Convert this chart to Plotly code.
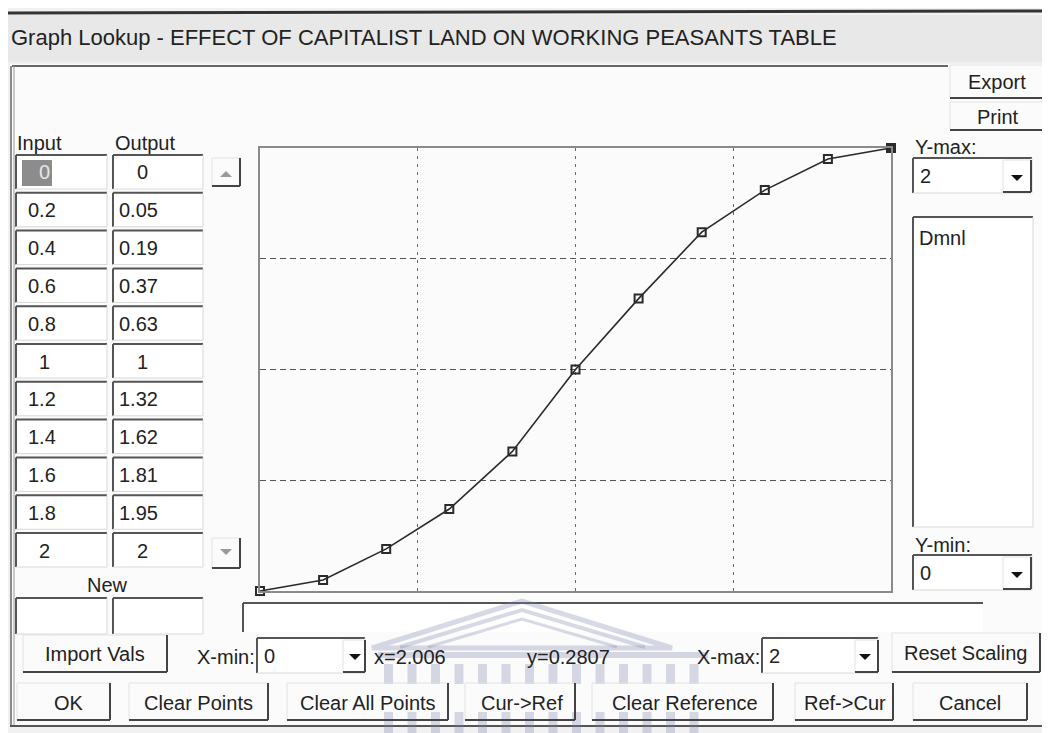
import plotly.graph_objects as go

# ---------------- data ----------------
inputs = [0, 0.2, 0.4, 0.6, 0.8, 1, 1.2, 1.4, 1.6, 1.8, 2]
outputs = [0, 0.05, 0.19, 0.37, 0.63, 1, 1.32, 1.62, 1.81, 1.95, 2]
title_text = "Graph Lookup - EFFECT OF CAPITALIST LAND ON WORKING PEASANTS TABLE"
x_min, x_max, y_min, y_max = 0, 2, 0, 2
units = "Dmnl"
cursor_x, cursor_y = "2.006", "0.2807"
bottom_buttons = ["OK", "Clear Points", "Clear All Points", "Cur->Ref",
                  "Clear Reference", "Ref->Cur", "Cancel"]

# ---------------- geometry helpers ----------------
# page body has an 8px margin: the figure is drawn from (8, 8) of the window
OFF = 8
W, H = 1050, 733
FW, FH = W - OFF, H - OFF
PL, PR, PT, PB = 260, 891, 148, 591   # plot area in window pixels
FONT = "Liberation Sans, Arial, sans-serif"
TXT = "#222222"


def px(x):
    return (x - PL) / (PR - PL)


def py(y):
    return (PB - y) / (PB - PT)


shapes = []
annos = []


def rect(x0, y0, x1, y1, fill="rgba(0,0,0,0)", lc="rgba(0,0,0,0)", lw=0):
    shapes.append(dict(type="rect", xref="paper", yref="paper",
                       x0=px(x0), x1=px(x1), y0=py(y1), y1=py(y0),
                       fillcolor=fill, line=dict(color=lc, width=lw), layer="below"))


def seg(x0, y0, x1, y1, color="#444", width=1.5, dash=None):
    ln = dict(color=color, width=width)
    if dash:
        ln["dash"] = dash
    shapes.append(dict(type="line", xref="paper", yref="paper",
                       x0=px(x0), x1=px(x1), y0=py(y0), y1=py(y1), line=ln, layer="below"))


def path(pts, color, width=0, fill=None, closed=True):
    d = "M " + " L ".join(f"{px(a):.5f},{py(b):.5f}" for a, b in pts)
    if closed:
        d += " Z"
    shapes.append(dict(type="path", xref="paper", yref="paper", path=d,
                       fillcolor=fill if fill else "rgba(0,0,0,0)",
                       line=dict(color=color, width=width), layer="below"))


def text(x, y, s, size=20, anchor="left", color=TXT):
    annos.append(dict(x=px(x), y=py(y), xref="paper", yref="paper", text=s,
                      showarrow=False, xanchor=anchor, yanchor="middle",
                      font=dict(family=FONT, size=size, color=color)))


def sunken(x0, y0, x1, y1, fill="#ffffff", full=True):
    rect(x0, y0, x1, y1, fill=fill)
    seg(x0, y0, x1, y0, "#555", 2)
    seg(x0, y0, x0, y1, "#555", 2)
    if full:
        seg(x0, y1, x1, y1, "#d8d8d8", 1)
        seg(x1, y0, x1, y1, "#d8d8d8", 1)


def raised(x0, y0, x1, y1):
    seg(x0, y0, x1, y0, "#e2e2e2", 1)
    seg(x0, y0, x0, y1, "#e2e2e2", 1)
    seg(x0, y1, x1, y1, "#444", 2)
    seg(x1, y0, x1, y1, "#444", 2)


def down_arrow(cx, cy, color="#111", s=6):
    path([(cx - s, cy - s / 2), (cx + s, cy - s / 2), (cx, cy + s / 2)], color, 0, color)


# ---------------- background / window ----------------
rect(OFF, OFF, W, H, fill="#f1f1f1")
rect(OFF, 15, W, 62, fill="#e8e8e8")
seg(OFF, 13, W, 11, "#333", 3)
text(9, 38, title_text, size=22)

# main panel
rect(10, 64, 1047, 727, fill="#fbfbfb")
seg(12, 66, 948, 66, "#666", 2)
seg(11, 66, 11, 727, "#666", 1.5)
seg(14, 66, 14, 727, "#999", 1)
seg(1047, 64, 1047, 727, "#555", 1.5)
seg(10, 726, 1047, 726, "#555", 2)

# Export / Print
raised(950, 65, 1045, 98)
text(997, 82, "Export", anchor="center")
raised(950, 102, 1045, 130)
text(998, 117, "Print", anchor="center")

# ---------------- table ----------------
text(15, 143, "Input")
text(113, 143, "Output")


def fmt(v):
    return f"{v:g}"


for i, (a, b) in enumerate(zip(inputs, outputs)):
    top = 155 + 37.8 * i
    cy = top + 17.5
    sunken(16, top, 107, top + 34)
    sunken(113, top, 203, top + 34)
    if i == 0:
        rect(22, top + 5, 52, top + 31, fill="#8c8c8c")
    sa, sb = fmt(a), fmt(b)
    ca = "#e6e6e6" if i == 0 else TXT
    if float(a).is_integer():
        text(44, cy, sa, anchor="center", color=ca)
    else:
        text(26, cy, sa, color=ca)
    if float(b).is_integer():
        text(142, cy, sb, anchor="center")
    else:
        text(117, cy, sb)

# scroll arrows
raised(212, 158, 240, 186)
path([(220, 177), (232, 177), (226, 171)], "#999", 0, "#999")
raised(212, 538, 240, 568)
path([(220, 549), (232, 549), (226, 555)], "#999", 0, "#999")

text(107, 585, "New", anchor="center")
sunken(16, 598, 107, 634)
sunken(113, 598, 203, 634)

# ---------------- right panel ----------------
text(913, 147, "Y-max:")
sunken(913, 158, 1032, 193)
text(918, 176, fmt(y_max))
raised(1003, 160, 1031, 192)
down_arrow(1017, 178)

sunken(913, 217, 1033, 527)
text(917, 238, units)

text(913, 545, "Y-min:")
sunken(913, 555, 1032, 590)
text(918, 573, fmt(y_min))
raised(1003, 557, 1031, 589)
down_arrow(1017, 575)

# ---------------- bottom controls ----------------
sunken(243, 603, 983, 632, full=False)

# watermark (scanned logo) over the background boxes
wm = "rgba(125,130,175,0.30)"
path([(372, 648), (522, 601), (672, 648)], wm, 5)
path([(400, 647), (522, 610), (645, 647)], wm, 4, closed=False)
path([(428, 647), (522, 619), (617, 647)], wm, 3, closed=False)
rect(378, 652, 708, 658, fill=wm)
for k in range(14):
    xx = 384 + k * 23.5
    rect(xx, 664, xx + 9, 684, fill=wm)
    rect(xx, 712, xx + 9, 733, fill=wm)

raised(23, 635, 167, 672)
text(95, 654, "Import Vals", anchor="center")

text(195, 657, "X-min:")
sunken(257, 638, 365, 673)
text(262, 656, fmt(x_min))
raised(343, 640, 365, 672)
down_arrow(355, 657)

text(372, 657, "x=" + cursor_x)
text(525, 657, "y=" + cursor_y)

text(695, 657, "X-max:")
sunken(762, 638, 878, 673)
text(767, 656, fmt(x_max))
raised(855, 640, 878, 672)
down_arrow(865, 657)

raised(892, 633, 1040, 672)
text(965, 653, "Reset Scaling", anchor="center")

btn_boxes = [(17, 110), (129, 268), (287, 448), (465, 575), (592, 773), (795, 893), (913, 1027)]
btn_text_x = [69, 198, 368, 522, 685, 845, 970]
for lab, (b0, b1), tx in zip(bottom_buttons, btn_boxes, btn_text_x):
    raised(b0, 683, b1, 720)
    text(tx, 703, lab, anchor="center")

# ---------------- the graph ----------------
symbols = ["square-open"] * (len(inputs) - 1) + ["square"]
fig = go.Figure()
fig.add_trace(go.Scatter(
    x=inputs, y=outputs, mode="lines+markers",
    line=dict(color="#2a2a2a", width=1.6),
    marker=dict(symbol=symbols, size=8, color="#2a2a2a", line=dict(color="#2a2a2a", width=2)),
    cliponaxis=False, hoverinfo="skip", showlegend=False))

fig.update_layout(
    width=FW, height=FH,
    margin=dict(l=PL - OFF, r=W - PR, t=PT - OFF, b=H - PB, pad=0),
    paper_bgcolor="#f1f1f1", plot_bgcolor="#ffffff",
    shapes=shapes, annotations=annos, showlegend=False,
)
fig.update_xaxes(range=[x_min, x_max], dtick=0.5, showticklabels=False, ticks="",
                 showgrid=True, gridcolor="#6a6a6a", gridwidth=1, griddash="3px,5px",
                 zeroline=False, showline=True, mirror=True, linecolor="#8a8a8a", linewidth=2,
                 fixedrange=True)
fig.update_yaxes(range=[y_min, y_max], dtick=0.5, showticklabels=False, ticks="",
                 showgrid=True, gridcolor="#555555", gridwidth=1, griddash="6px,4px",
                 zeroline=False, showline=True, mirror=True, linecolor="#8a8a8a", linewidth=2,
                 fixedrange=True)

fig.write_html("out.html")
